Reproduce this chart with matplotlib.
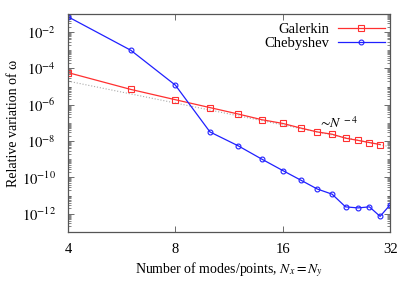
import math
import matplotlib
matplotlib.use("Agg")
from matplotlib import pyplot as plt
from matplotlib.ticker import FixedLocator, LogLocator, NullFormatter, NullLocator

plt.rcParams['font.family'] = ['Liberation Serif', 'DejaVu Serif']
plt.rcParams['mathtext.fontset'] = 'stix'

# data
n_gal = [4, 6, 8, 10, 12, 14, 16, 18, 20, 22, 24, 26, 28, 30]
err_gal = [5.9e-5, 7.0e-6, 1.9e-6, 7.0e-7, 3.1e-7, 1.5e-7, 9.4e-8,
           5.2e-8, 3.2e-8, 2.4e-8, 1.45e-8, 1.1e-8, 8.3e-9, 6.5e-9]

n_cheb = [4, 6, 8, 10, 12, 14, 16, 18, 20, 22, 24, 26, 28, 30, 32]
err_cheb = [7.0e-2, 1.0e-3, 1.2e-5, 3.2e-8, 5.5e-9, 1.0e-9, 2.4e-10,
            7.0e-11, 2.3e-11, 1.2e-11, 2.4e-12, 2.1e-12, 2.4e-12, 7.2e-13, 3.1e-12]

# ~N^-4 guide (end points)
ref_n = [4, 32]
ref_err = [2.0e-5, 4.9e-9]

xticks = [4, 8, 16, 32]
yticks = [1e-12, 1e-10, 1e-8, 1e-6, 1e-4, 1e-2]

fig = plt.figure(figsize=(4.15, 2.91), dpi=100)
ax = fig.add_axes([0.164, 0.203, 0.776, 0.749])

ax.plot(ref_n, ref_err, color='#aaaaaa', lw=0.8, ls=':')
ax.plot(n_gal, err_gal, color='#ff3030', lw=0.9, marker='s', ms=4,
        mfc='none', mew=0.8, label='Galerkin')
ax.plot(n_cheb, err_cheb, color='#2020ff', lw=0.9, marker='o', ms=3.5,
        mfc='none', mew=0.8, label='Chebyshev')

ax.set_xscale('log', base=2)
ax.set_yscale('log')
ax.set_xlim(4, 32)
ax.set_ylim(1e-13, 1e-1)

ax.xaxis.set_major_locator(FixedLocator(xticks))
ax.set_xticklabels([str(t) for t in xticks])
ax.xaxis.set_minor_locator(NullLocator())
ax.yaxis.set_major_locator(FixedLocator(yticks))
ax.set_yticklabels([r'$10^{%d}$' % round(math.log10(t)) for t in yticks])
ax.yaxis.set_minor_locator(LogLocator(base=10, subs=[1, 2, 3, 4, 5, 6, 7, 8, 9], numticks=30))
ax.yaxis.set_minor_formatter(NullFormatter())

ax.tick_params(which='both', direction='in', top=True, right=True,
               labelsize=10.5, color='#555555')
ax.tick_params(which='major', length=4, width=0.6)
ax.tick_params(axis='x', which='major', pad=8)
ax.tick_params(axis='y', which='major', pad=9)
ax.tick_params(which='minor', length=2, width=0.5)
for s in ax.spines.values():
    s.set_color('#555555')
    s.set_linewidth(0.9)

ax.set_xlabel(r'Number of modes/points, $N_x = N_y$', fontsize=10, labelpad=3)
ax.set_ylabel('Relative variation of ω', fontsize=10, labelpad=1)

ax.text(20.1, 5.5e-8, r'$\sim\!N^{\,-4}$', fontsize=10)

ax.legend(loc='upper right', markerfirst=False, frameon=False, fontsize=10.5,
          handlelength=3.2, handletextpad=0.6, labelspacing=0.05,
          borderaxespad=0.3, bbox_to_anchor=(1.015, 1.005))

fig.savefig('out.png', dpi=100)
